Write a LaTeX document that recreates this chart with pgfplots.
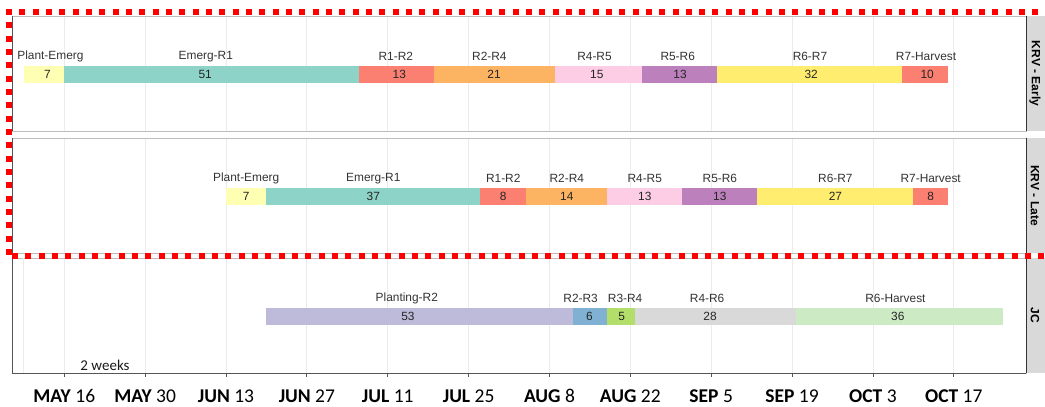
\documentclass[border=0pt]{standalone}
\usepackage{pgfplots}
\pgfplotsset{compat=1.18}
\usepackage{pgfplotstable}
\usepackage{fontspec}
\setmainfont{Liberation Sans}
\newfontfamily\calib{Carlito}

\definecolor{cPE}{HTML}{FFFFB3}
\definecolor{cER}{HTML}{8DD3C7}
\definecolor{cSal}{HTML}{FB8072}
\definecolor{cOr}{HTML}{FDB462}
\definecolor{cPk}{HTML}{FCCDE5}
\definecolor{cPu}{HTML}{BC80BD}
\definecolor{cYe}{HTML}{FFED6F}
\definecolor{cLav}{HTML}{BEBADA}
\definecolor{cBl}{HTML}{80B1D3}
\definecolor{cGr}{HTML}{B3DE69}
\definecolor{cGy}{HTML}{D9D9D9}
\definecolor{cLg}{HTML}{CCEBC5}
\definecolor{gridc}{HTML}{EBEBEB}
\definecolor{bordc}{HTML}{BDBDBD}
\definecolor{axc}{HTML}{555555}
\definecolor{stripc}{HTML}{D9D9D9}
\definecolor{txt}{HTML}{333333}

% days counted from May 1 (May 16 = 15); lx = name label position, nx = number position
\pgfplotstableread{
s e d lx nx n
8 15 7 12.6 12.1 Plant-Emerg
15 66 51 39.5 39.4 Emerg-R1
66 79 13 72.4 73.0 R1-R2
79 100 21 88.6 89.4 R2-R4
100 115 15 106.8 107.2 R4-R5
115 128 13 121.2 121.6 R5-R6
128 160 32 144.1 144.3 R6-R7
160 168 10 164.2 164.4 R7-Harvest
}\early
\pgfplotstableread{
s e d lx nx n
43 50 7 46.5 46.5 Plant-Emerg
50 87 37 68.5 68.5 Emerg-R1
87 95 8 91 91 R1-R2
95 109 14 102 102 R2-R4
109 122 13 115.5 115.5 R4-R5
122 135 13 128.5 128.5 R5-R6
135 162 27 148.5 148.5 R6-R7
162 168 8 165 165 R7-Harvest
}\late
\pgfplotstableread{
s e d lx nx n
50 103 53 74.3 74.5 Planting-R2
103 109 6 104.4 105.9 R2-R3
109 113.8 5 112.1 111.5 R3-R4
113.8 141.7 28 126.3 126.8 R4-R6
141.7 177.6 36 158.9 159.3 R6-Harvest
}\jc

\newcommand{\lblfont}{\fontsize{11.9}{13}\selectfont}
\newcommand{\seg}[3]{\addplot[line width=17.5pt, color=#3, forget plot] coordinates {(#1,0.49) (#2,0.49)};}
\newcommand{\labels}[1]{%
\addplot[draw=none, mark=none, nodes near coords={\pgfplotspointmeta}, point meta=explicit symbolic,
  every node near coord/.append style={anchor=center, yshift=18.5pt, text=txt, font=\lblfont}]
  table[x=lx, y expr=0.49, meta=n] {#1};
\addplot[draw=none, mark=none, nodes near coords={\pgfplotspointmeta}, point meta=explicit symbolic,
  every node near coord/.append style={anchor=center, text=black!85, font=\lblfont}]
  table[x=nx, y expr=0.49, meta=d] {#1};
}
\newcommand{\strip}[1]{%
  \fill[stripc] (rel axis cs:1,0) rectangle ++(30pt,115pt);
  \draw[black!80, line width=0.8pt] (rel axis cs:1,0) -- (rel axis cs:1,1);
  \draw[axc, line width=0.8pt] (rel axis cs:0,0) -- (rel axis cs:0,1);
  \node[rotate=-90, font=\bfseries\fontsize{12}{14}\selectfont] at ([xshift=9pt]rel axis cs:1,0.5) {#1};
}

\pgfplotsset{panel/.style={
  scale only axis, width=1014pt, height=115pt, anchor=south west,
  xmin=5.95, xmax=181.5, ymin=0, ymax=1,
  xtick={15,29,43,57,71,85,99,113,127,141,155,169}, ytick=\empty,
  xmajorgrids, major grid style={gridc, line width=0.8pt},
  axis line style={bordc, line width=0.8pt},
  clip=false,
}}

\begin{document}
\begin{tikzpicture}
\path[use as bounding box] (0,0) rectangle (1045pt,407pt);

% KRV - Early
\begin{axis}[panel, at={(12pt,276pt)}, xticklabels={}, major tick length=0pt, xtick style={draw=none}]
\seg{8}{15}{cPE}
\seg{15}{66}{cER}
\seg{66}{79}{cSal}
\seg{79}{100}{cOr}
\seg{100}{115}{cPk}
\seg{115}{128}{cPu}
\seg{128}{160}{cYe}
\seg{160}{168}{cSal}
\labels{\early}
\strip{KRV - Early}
\end{axis}

% KRV - Late
\begin{axis}[panel, at={(12pt,154pt)}, xticklabels={}, major tick length=0pt, xtick style={draw=none}]
\seg{43}{50}{cPE}
\seg{50}{87}{cER}
\seg{87}{95}{cSal}
\seg{95}{109}{cOr}
\seg{109}{122}{cPk}
\seg{122}{135}{cPu}
\seg{135}{162}{cYe}
\seg{162}{168}{cSal}
\labels{\late}
\strip{KRV - Late}
\end{axis}

% JC
\begin{axis}[panel, at={(12pt,34pt)},
  xtick pos=lower, tick align=outside, major tick length=4pt,
  xtick style={axc, line width=0.8pt},
  extra x ticks={7.85}, extra x tick labels={}, extra x tick style={major tick length=0pt, xtick style={draw=none}},
  xticklabels={{\textbf{MAY} 16},{\textbf{MAY} 30},{\textbf{JUN} 13},{\textbf{JUN} 27},{\textbf{JUL} 11},{\textbf{JUL} 25},{\textbf{AUG} 8},{\textbf{AUG} 22},{\textbf{SEP} 5},{\textbf{SEP} 19},{\textbf{OCT} 3},{\textbf{OCT} 17}},
  xticklabel style={font=\calib\fontsize{19.5}{21}\selectfont, anchor=base, yshift=-25pt, text=black},
]
\seg{50}{103}{cLav}
\seg{103}{109}{cBl}
\seg{109}{113.8}{cGr}
\seg{113.8}{141.7}{cGy}
\seg{141.7}{177.6}{cLg}
\labels{\jc}
\strip{JC}
\draw[axc, line width=0.8pt] (rel axis cs:0,0) -- (rel axis cs:1,0);
\end{axis}

\node[font=\calib\fontsize{15}{17}\selectfont, text=black!90] at (105pt,42pt) {2 weeks};

% red dashed highlight
\begin{scope}[red, line width=6pt, dash pattern=on 6pt off 7.33pt]
\draw (6pt,395pt) -- (1060pt,395pt);
\draw (9pt,398pt) -- (9pt,151pt);
\draw (12pt,151pt) -- (1060pt,151pt);
\end{scope}
\end{tikzpicture}
\end{document}
